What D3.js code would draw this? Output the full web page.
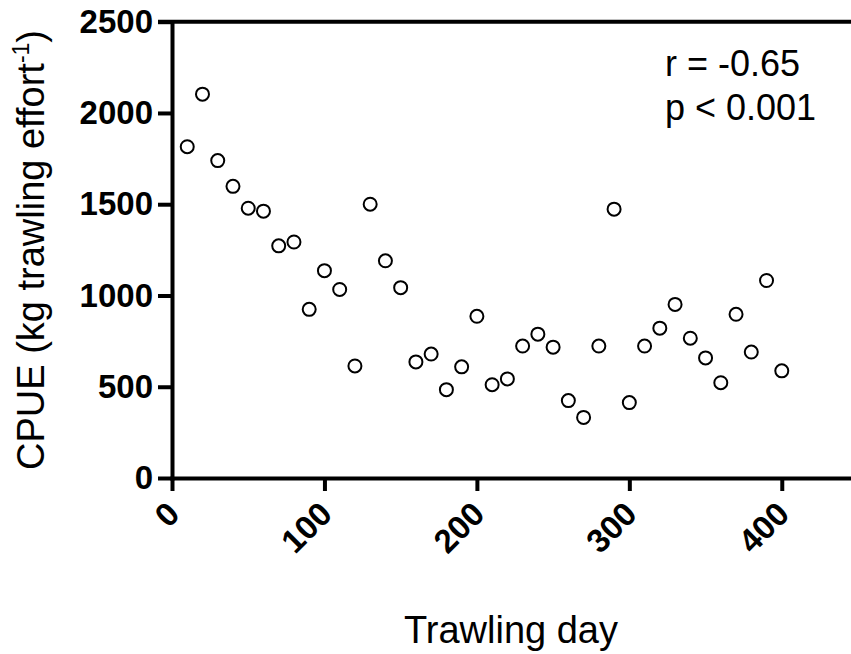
<!DOCTYPE html>
<html>
<head>
<meta charset="utf-8">
<script src="https://cdn.jsdelivr.net/npm/d3@7"></script>
<style>
  body { margin: 0; background: #fff; }
  svg { display: block; font-family: "Liberation Sans", Arial, sans-serif; }
  .tick text { font-weight: bold; font-size: 33px; fill: #000; }
</style>
</head>
<body>
<svg id="chart" width="851" height="654"></svg>
<script>
// ─── Data ────────────────────────────────────────────────────────────────
const trawlDays = [10,20,30,40,50,60,70,80,90,100,110,120,130,140,150,160,170,180,190,200,
  210,220,230,240,250,260,270,280,290,300,310,320,330,340,350,360,370,380,390,400];
const cpue = [1815,2103,1739,1598,1478,1462,1272,1293,924,1136,1033,614,1500,1190,1043,636,679,484,609,886,
  511,543,723,788,717,424,332,723,1473,413,723,821,951,766,658,522,897,690,1082,587];
const xTicks = [0,100,200,300,400];
const yTicks = [0,500,1000,1500,2000,2500];

// ─── Scales ──────────────────────────────────────────────────────────────
const svg = d3.select("#chart");
const x = d3.scaleLinear().domain([0, 450]).range([172, 858]);
const y = d3.scaleLinear().domain([0, 2500]).range([478, 21.7]);

// x axis
const xAxis = svg.append("g")
  .attr("transform", `translate(0,${y(0)})`)
  .call(d3.axisBottom(x).tickValues(xTicks).tickFormat(d3.format("d"))
    .tickSize(13).tickSizeOuter(0));
xAxis.selectAll(".tick text")
  .attr("text-anchor", "end")
  .attr("x", 0).attr("y", 0).attr("dy", "0")
  .attr("transform", "translate(9,38) rotate(-45)");

// y axis
svg.append("g")
  .attr("transform", `translate(${x(0)},0)`)
  .call(d3.axisLeft(y).tickValues(yTicks).tickFormat(d3.format("d"))
    .tickSize(14).tickSizeOuter(0).tickPadding(5));

svg.selectAll(".domain, .tick line").attr("stroke", "#000").attr("stroke-width", 4);
svg.selectAll(".domain").attr("stroke-linecap", "square");

// top frame line
svg.append("line")
  .attr("x1", x(0) - 14).attr("x2", 851)
  .attr("y1", y(2500)).attr("y2", y(2500))
  .attr("stroke", "#000").attr("stroke-width", 4);

// points
svg.append("g").selectAll("circle")
  .data(trawlDays.map((d, i) => [d, cpue[i]]))
  .join("circle")
  .attr("cx", d => x(d[0]))
  .attr("cy", d => y(d[1]))
  .attr("r", 6.5)
  .attr("fill", "#fff")
  .attr("stroke", "#000")
  .attr("stroke-width", 2);

// axis titles
svg.append("text")
  .attr("x", 511).attr("y", 643)
  .attr("text-anchor", "middle")
  .attr("font-size", 38)
  .text("Trawling day");

const yt = svg.append("text")
  .attr("transform", "translate(44,250) rotate(-90)")
  .attr("text-anchor", "middle")
  .attr("font-size", 38);
yt.append("tspan").text("CPUE (kg trawling effort");
yt.append("tspan").attr("font-size", 23).attr("dy", -15).text("-1");
yt.append("tspan").attr("dy", 15).text(")");

// annotation
svg.append("text").attr("x", 665).attr("y", 76).attr("font-size", 36).text("r = -0.65");
svg.append("text").attr("x", 665).attr("y", 120).attr("font-size", 36).text("p < 0.001");
</script>
</body>
</html>
